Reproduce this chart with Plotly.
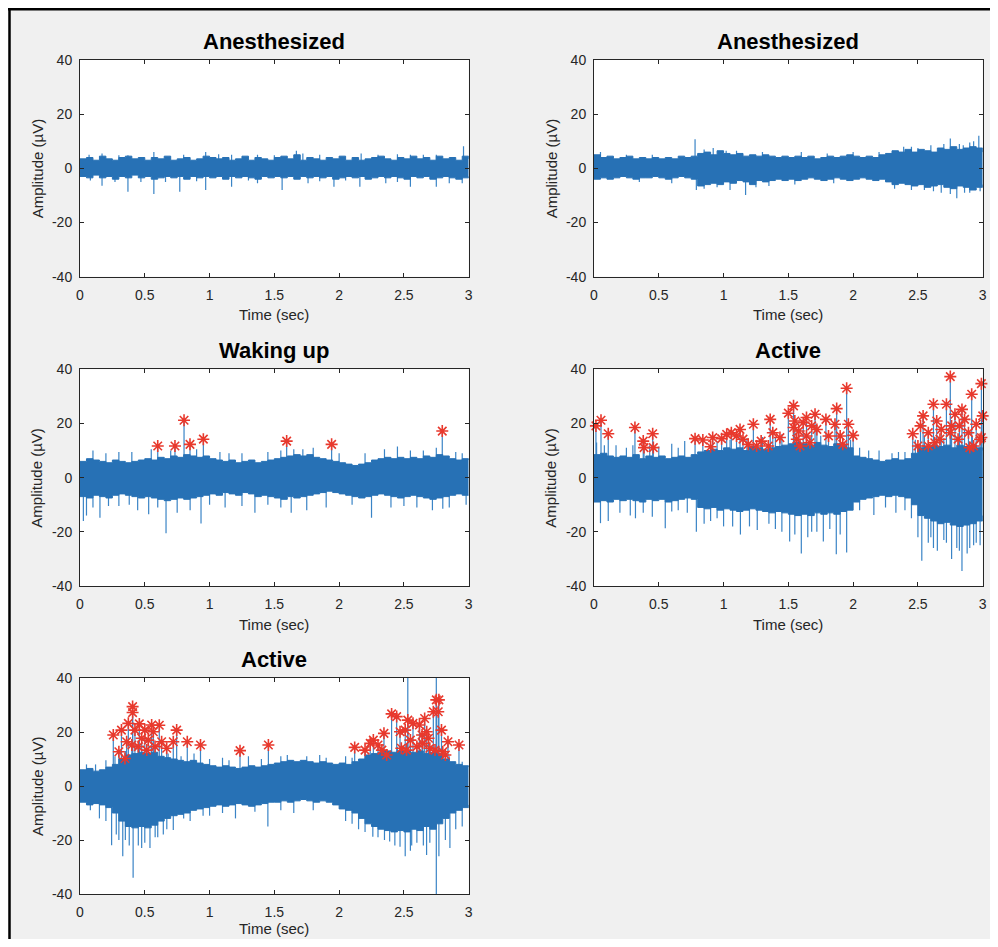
import plotly.graph_objects as go

# ---------------- data ----------------
TIME = [round(0.05 * i, 2) for i in range(61)]  # sampling grid of the envelopes (s)

TITLES = ["Anesthesized", "Anesthesized", "Waking up", "Active", "Active"]
X_TICKS = [0, 0.5, 1, 1.5, 2, 2.5, 3]
X_TICK_TEXT = ["0", "0.5", "1", "1.5", "2", "2.5", "3"]
Y_TICKS = [-40, -20, 0, 20, 40]
Y_TICK_TEXT = ["-40", "-20", "0", "20", "40"]
X_LABEL = "Time (sec)"
Y_LABEL = "Amplitude (µV)"

# Panel 1: Anesthesized (top left) - dense core envelope
A1_UPPER = [3.5, 4.0, 3.0, 4.5, 3.5, 3.0, 4.0, 4.5, 3.5, 4.0,
            3.0, 4.0, 3.5, 4.5, 3.0, 3.5, 4.0, 3.0, 3.5, 4.5,
            4.0, 3.5, 4.0, 3.0, 3.5, 4.5, 3.0, 4.0, 3.5, 3.0,
            4.0, 4.5, 3.5, 5.0, 3.0, 4.0, 3.5, 3.0, 4.0, 3.5,
            4.5, 3.0, 4.0, 3.0, 3.5, 4.0, 4.5, 3.5, 3.0, 4.0,
            3.5, 4.5, 3.5, 4.0, 3.0, 4.5, 3.5, 4.0, 3.0, 4.5,
            3.5]
A1_LOWER = [-3.0, -3.5, -2.5, -3.5, -3.0, -4.0, -3.0, -3.5, -2.5, -3.5,
            -3.0, -4.0, -3.5, -3.0, -3.5, -3.0, -4.0, -3.0, -3.5, -3.0,
            -3.5, -3.0, -4.0, -3.0, -3.5, -3.0, -3.5, -4.0, -3.0, -3.5,
            -3.0, -3.5, -3.0, -4.0, -3.0, -3.5, -3.0, -3.5, -3.0, -4.0,
            -3.5, -3.0, -3.5, -3.0, -4.0, -3.5, -3.0, -3.5, -3.0, -3.5,
            -4.0, -3.0, -3.5, -3.0, -4.0, -3.5, -3.0, -3.5, -4.0, -3.5,
            -3.0]
A1_SPIKE_T = [0.07, 0.17, 0.37, 0.57, 0.97, 1.17, 1.37, 1.67, 1.72, 2.17, 2.55, 2.75, 2.96,
              0.17, 0.27, 0.37, 0.47, 0.57, 0.77, 0.97, 1.17, 1.37, 1.56, 1.76, 1.96, 2.16,
              2.36, 2.55, 2.75, 2.95]
A1_SPIKE_V = [5.0, 5.5, 4.8, 6.0, 6.0, 5.0, 5.0, 6.5, 5.5, 5.5, 5.0, 5.0, 8.2,
              -6.4, -5.0, -8.6, -5.0, -9.5, -8.6, -8.0, -6.8, -5.5, -8.0, -5.5, -6.8, -6.8,
              -5.5, -6.8, -6.8, -5.5]
A1_FRINGE = [(0.30, 4.8), (0.80, 5.0), (1.07, 5.2), (1.50, 4.8), (1.85, 5.0), (2.30, 5.0),
             (2.45, 5.2), (2.65, 5.0), (0.08, -4.5), (0.66, -5.0), (0.90, -4.8), (1.30, -4.5),
             (1.85, -4.8), (2.05, -4.5), (2.45, -5.0), (2.85, -5.5)]

# Panel 2: Anesthesized (top right)
A2_UPPER = [5.0, 4.0, 4.5, 3.5, 4.0, 4.5, 3.5, 4.0, 3.5, 4.0,
            3.5, 4.0, 3.5, 4.5, 4.0, 4.5, 5.5, 6.0, 5.0, 6.5,
            5.5, 5.0, 5.5, 4.5, 5.0, 4.5, 5.0, 4.5, 4.0, 4.5,
            4.0, 4.5, 4.0, 4.5, 3.5, 4.0, 4.5, 4.0, 4.5, 5.0,
            4.5, 4.0, 4.5, 4.0, 5.0, 5.5, 6.5, 6.0, 7.0, 6.0,
            7.0, 6.5, 6.0, 7.5, 7.0, 8.0, 7.0, 7.5, 8.0, 7.5,
            6.0]
A2_LOWER = [-4.0, -3.5, -4.0, -3.5, -3.0, -3.5, -4.0, -3.5, -3.5, -3.0,
            -3.5, -4.0, -3.5, -3.0, -3.5, -4.0, -6.5, -6.0, -5.5, -6.0,
            -5.0, -5.5, -4.5, -5.0, -6.0, -4.5, -5.0, -4.5, -4.0, -4.5,
            -4.0, -4.5, -4.0, -3.5, -4.0, -4.5, -4.0, -3.5, -4.0, -4.5,
            -4.0, -3.5, -4.0, -4.5, -4.0, -5.0, -6.0, -5.5, -6.0, -6.5,
            -6.0, -7.0, -6.5, -6.0, -7.0, -7.5, -6.5, -7.0, -8.0, -7.0,
            -6.0]
A2_SPIKE_T = [0.05, 0.78, 0.92, 1.02, 1.60, 2.20, 2.39, 2.60, 2.75, 2.82, 2.90, 2.97,
              0.60, 0.79, 0.85, 1.05, 1.17, 1.35, 2.32, 2.55, 2.68, 2.80, 2.90, 2.98]
A2_SPIKE_V = [6.0, 10.7, 7.5, 6.5, 6.0, 6.0, 8.0, 8.5, 11.0, 9.0, 9.5, 12.0,
              -5.5, -8.0, -7.5, -8.0, -9.8, -6.5, -7.5, -8.0, -9.0, -11.0, -9.0, -8.5]
A2_FRINGE = [(0.25, 5.0), (0.45, 5.0), (0.85, 7.0), (1.10, 6.5), (1.30, 6.0), (1.80, 5.5),
             (2.00, 6.0), (2.45, 8.0), (2.50, 7.5), (2.70, 9.0), (2.85, 8.5), (2.93, 10.0),
             (0.35, -5.0), (0.95, -7.0), (1.25, -7.0), (1.55, -6.0), (1.85, -5.5), (2.45, -8.0),
             (2.62, -8.5), (2.75, -9.5), (2.86, -9.0)]

# Panel 3: Waking up (middle left)
W_UPPER = [6.0, 7.0, 6.5, 6.0, 5.5, 6.5, 6.0, 5.5, 6.0, 6.5,
           7.0, 6.5, 7.5, 7.0, 8.0, 7.5, 8.5, 8.0, 7.5, 8.0,
           7.0, 6.5, 6.0, 6.5, 5.5, 6.0, 6.5, 5.5, 6.0, 6.5,
           7.0, 7.5, 8.0, 8.5, 8.0, 8.5, 7.5, 7.0, 6.5, 6.0,
           5.5, 5.0, 4.5, 5.0, 5.5, 6.5, 7.0, 7.5, 7.0, 7.5,
           7.0, 7.5, 7.0, 8.0, 7.5, 8.5, 8.0, 7.0, 6.5, 7.0,
           6.5]
W_LOWER = [-7.0, -7.5, -6.5, -7.0, -7.5, -6.5, -6.0, -6.5, -7.0, -7.5,
           -7.0, -7.5, -8.0, -8.5, -8.0, -7.5, -8.0, -7.5, -7.0, -6.5,
           -6.0, -6.5, -5.5, -6.0, -6.5, -5.5, -6.0, -7.0, -6.5, -7.0,
           -7.5, -8.0, -7.0, -7.5, -7.0, -6.5, -6.0, -5.5, -5.0, -5.5,
           -6.0, -6.5, -7.0, -7.5, -7.0, -6.5, -6.0, -6.5, -7.0, -7.5,
           -7.0, -6.5, -7.0, -7.5, -8.0, -7.5, -7.0, -6.5, -6.0, -6.5,
           -6.5]
W_SPIKE_T = [0.10, 0.30, 0.40, 0.55, 1.08, 1.25, 1.45, 1.65, 1.80, 2.00, 2.20, 2.35, 2.45,
             2.65, 2.90,
             0.026, 0.05, 0.154, 0.30, 0.445, 0.53, 0.664, 0.75, 0.85, 0.934, 1.12, 1.35,
             1.55, 1.63, 1.75, 1.90, 2.25, 2.40, 2.60, 2.72, 2.85, 2.98]
W_SPIKE_V = [10.0, 9.5, 9.5, 10.5, 9.5, 9.0, 9.5, 10.5, 11.0, 9.0, 9.0, 10.5, 11.5,
             10.0, 9.5,
             -16.0, -14.0, -14.8, -10.5, -12.0, -13.5, -20.5, -13.0, -12.0, -16.9, -11.0, -13.0,
             -11.0, -13.0, -12.0, -11.0, -14.8, -11.0, -11.0, -12.0, -11.0, -10.0]
W_FRINGE = [(0.20, 9.0), (0.70, 10.0), (0.90, 10.5), (1.15, 9.0), (1.55, 10.0), (1.72, 10.5),
            (2.55, 10.0), (2.75, 11.0), (2.95, 9.0), (0.10, -11.0), (0.22, -10.5), (0.38, -10.0),
            (0.60, -11.0), (1.00, -10.0), (1.25, -10.5), (1.45, -10.0), (2.10, -10.0),
            (2.50, -10.5), (2.80, -11.5)]
W_STAR_T = [0.600, 0.733, 0.803, 0.849, 0.952, 1.595, 1.942, 2.796]
W_STAR_V = [11.7, 11.7, 21.2, 12.3, 14.2, 13.5, 12.3, 17.2]

# Panel 4: Active (middle right)
R_UPPER = [8.5, 9.0, 8.0, 7.5, 8.0, 7.5, 8.5, 7.0, 8.0, 7.5,
           8.0, 7.0, 7.5, 8.0, 7.5, 8.5, 9.5, 10.0, 10.5, 10.0,
           11.0, 10.5, 11.0, 10.0, 11.5, 11.0, 10.5, 11.0, 11.5, 12.0,
           12.5, 13.0, 12.5, 12.0, 13.0, 12.0, 11.5, 12.5, 12.0, 11.0,
           8.0, 7.5, 7.0, 6.5, 6.0, 6.5, 7.0, 6.5, 7.0, 9.0,
           11.0, 11.5, 12.0, 11.5, 12.0, 11.0, 12.0, 11.5, 12.0, 11.0,
           10.0]
R_LOWER = [-9.0, -8.5, -9.0, -8.0, -8.5, -8.0, -8.5, -9.0, -8.0, -8.5,
           -8.0, -9.0, -8.5, -8.0, -7.5, -8.0, -11.0, -11.5, -11.0, -12.0,
           -11.5, -12.0, -12.5, -12.0, -11.5, -12.0, -12.5, -13.0, -12.5, -13.0,
           -13.5, -14.0, -13.5, -14.0, -13.0, -13.5, -13.0, -13.5, -12.5, -12.0,
           -9.0, -8.0, -7.5, -7.0, -6.5, -7.0, -6.5, -7.0, -7.5, -10.0,
           -14.0, -15.0, -16.0, -17.0, -16.5, -17.5, -18.0, -17.5, -17.0, -16.0,
           -14.0]
R_SPIKE_T = [0.02, 0.17, 0.25, 0.43, 0.60, 0.70, 1.30, 1.45, 2.05, 2.20, 2.30, 2.40,
             0.05, 0.11, 0.20, 0.32, 0.45, 0.55, 0.65, 0.79, 0.90, 1.00, 1.13, 1.20, 1.26,
             1.35, 1.45, 1.51, 1.60, 1.65, 1.72, 1.77, 1.87, 1.95, 2.05, 2.16, 2.33, 2.45,
             2.53, 2.58, 2.60, 2.65, 2.70, 2.76, 2.80, 2.84, 2.88, 2.90, 2.95, 2.98]
R_SPIKE_V = [13.0, 12.0, 11.0, 12.0, 12.5, 13.5, 15.0, 16.0, 11.0, 10.0, 9.0, 9.5,
             -16.8, -16.0, -13.0, -15.0, -14.4, -18.7, -12.0, -20.0, -16.0, -18.0, -21.0, -18.0, -19.3,
             -17.0, -20.0, -23.6, -28.0, -22.0, -20.0, -23.6, -28.3, -27.6, -12.0, -13.8, -13.0, -15.0,
             -30.7, -24.0, -22.0, -27.0, -23.0, -30.0, -26.0, -34.5, -28.0, -26.0, -24.0, -25.0]
R_FRINGE = [(0.08, 12.0), (0.30, 12.0), (0.50, 11.5), (0.65, 11.0), (0.95, 13.5), (1.05, 14.0),
            (1.18, 14.5), (1.40, 15.0), (1.75, 15.5), (1.98, 14.0), (2.12, 10.0), (2.35, 9.5),
            (2.48, 14.0), (2.55, 15.0), (2.70, 14.5), (2.92, 15.0), (0.28, -14.0), (0.38, -13.0),
            (0.60, -12.5), (0.72, -13.0), (0.85, -17.0), (0.95, -15.0), (1.07, -18.0), (1.40, -19.0),
            (1.55, -21.0), (1.68, -20.0), (1.82, -19.0), (1.90, -21.0), (2.25, -11.0), (2.40, -12.0),
            (2.50, -22.0), (2.62, -26.0), (2.72, -24.0), (2.82, -27.0), (2.93, -25.0)]
R_STAR_T = [0.015, 0.054, 0.11, 0.316, 0.38, 0.386, 0.453, 0.458, 0.78, 0.84,
            0.90, 0.916, 0.985, 1.024, 1.06, 1.10, 1.127, 1.15, 1.19, 1.23,
            1.255, 1.29, 1.36, 1.38, 1.345, 1.435, 1.50, 1.54, 1.55, 1.58,
            1.615, 1.64, 1.59, 1.667, 1.706, 1.72, 1.79, 1.81, 1.873, 1.86,
            1.90, 1.92, 1.95, 1.963, 2.00, 2.46, 2.50, 2.54, 2.58, 2.62,
            2.645, 2.63, 2.68, 2.72, 2.75, 2.76, 2.786, 2.81, 2.84, 2.86,
            2.89, 2.915, 2.93, 2.95, 2.98, 2.99, 3.00, 2.99, 2.52, 2.67,
            2.82, 2.75, 2.90, 2.58, 1.54, 1.64, 1.68, 1.565]
R_STAR_V = [19.1, 21.2, 16.2, 18.5, 13.5, 11.1, 16.2, 11.1, 14.4, 13.9,
            11.4, 14.8, 14.4, 16.0, 16.6, 15.4, 17.8, 14.2, 12.3, 19.7,
            11.7, 13.5, 21.5, 16.6, 11.7, 14.8, 23.8, 26.5, 20.9, 17.2,
            20.3, 15.4, 11.7, 12.9, 23.4, 17.8, 21.5, 15.4, 25.5, 19.7,
            15.4, 12.3, 33.0, 19.7, 15.6, 16.2, 11.7, 22.8, 16.6, 27.1,
            20.9, 12.9, 17.8, 27.1, 37.3, 19.1, 23.4, 14.2, 25.2, 21.5,
            16.6, 30.8, 11.7, 19.7, 14.2, 34.7, 22.8, 14.8, 19.1, 14.2,
            19.1, 16.6, 11.1, 11.7, 18.5, 22.2, 19.1, 14.2]

# Panel 5: Active (bottom left)
B_UPPER = [6.0, 6.5, 5.5, 6.0, 7.0, 8.0, 10.0, 11.5, 12.0, 12.5,
           12.0, 12.5, 11.0, 10.5, 10.0, 9.5, 9.0, 9.5, 8.5, 8.0,
           7.5, 7.0, 7.5, 7.0, 6.5, 7.0, 7.5, 7.0, 7.5, 8.0,
           8.5, 9.0, 9.5, 9.0, 9.5, 9.0, 8.5, 9.0, 8.5, 8.0,
           8.5, 8.0, 9.0, 10.0, 11.5, 12.0, 12.5, 13.0, 12.5, 13.0,
           13.0, 12.5, 13.0, 12.0, 12.5, 12.0, 10.0, 9.0, 8.0, 7.5,
           7.0]
B_LOWER = [-6.0, -7.0, -6.5, -7.0, -8.0, -10.0, -13.0, -15.0, -15.5, -15.0,
           -15.5, -14.5, -13.0, -12.0, -11.0, -10.5, -10.0, -9.0, -8.5, -8.0,
           -7.5, -7.0, -7.5, -7.0, -6.5, -7.0, -7.5, -7.0, -6.5, -6.0,
           -6.0, -5.5, -6.0, -5.5, -5.0, -5.5, -6.0, -5.5, -6.0, -7.0,
           -8.5, -9.0, -10.0, -12.0, -14.0, -15.0, -16.0, -16.5, -17.0, -16.5,
           -17.0, -16.0, -16.5, -15.0, -16.0, -14.0, -12.0, -10.0, -9.0, -8.0,
           -7.0]
B_SPIKE_T = [2.75, 0.12, 0.20, 0.88, 1.00, 1.10, 1.30, 1.60, 1.75, 1.90, 2.05, 2.95,
             0.15, 0.244, 0.30, 0.33, 0.38, 0.41, 0.476, 0.54, 0.60, 0.643, 0.72, 0.85,
             1.00, 1.20, 1.45, 1.65, 2.05, 2.15, 2.26, 2.30, 2.39, 2.47, 2.51, 2.56,
             2.60, 2.675, 2.75, 2.77, 2.855, 2.95]
B_SPIKE_V = [42.0, 8.0, 9.5, 12.0, 10.0, 10.5, 11.0, 11.5, 11.0, 10.5, 11.0, 9.0,
             -12.0, -21.9, -20.0, -26.0, -22.0, -34.0, -23.0, -23.0, -19.0, -18.0, -16.3, -13.0,
             -11.0, -12.0, -15.0, -10.0, -13.0, -16.0, -18.8, -19.0, -20.6, -22.5, -26.0, -22.0,
             -21.0, -25.6, -42.0, -26.0, -23.0, -15.0]
B_FRINGE = [(0.05, 8.0), (0.27, 11.0), (0.35, 13.0), (0.45, 14.0), (0.55, 14.5), (0.68, 12.0),
            (0.78, 11.0), (1.15, 9.5), (1.40, 10.0), (1.55, 11.0), (1.85, 11.5), (2.10, 10.5),
            (2.25, 12.0), (2.35, 13.0), (2.45, 14.5), (2.62, 14.0), (2.85, 11.0), (0.08, -9.0),
            (0.20, -13.0), (0.28, -18.0), (0.35, -20.0), (0.45, -22.0), (0.50, -21.0),
            (0.58, -19.0), (0.67, -16.0), (0.80, -12.0), (0.95, -11.0), (1.10, -10.0),
            (1.35, -9.5), (1.55, -9.0), (1.80, -9.0), (2.10, -14.0), (2.20, -17.0), (2.35, -20.0),
            (2.43, -22.0), (2.55, -24.0), (2.65, -22.0), (2.70, -21.0), (2.82, -20.0), (2.90, -16.0)]
B_STAR_T = [0.257, 0.30, 0.32, 0.347, 0.36, 0.373, 0.40, 0.406, 0.406, 0.424,
            0.45, 0.458, 0.476, 0.50, 0.515, 0.527, 0.553, 0.566, 0.579, 0.612,
            0.63, 0.669, 0.72, 0.746, 0.828, 0.93, 1.235, 1.454, 2.12, 2.20,
            2.24, 2.264, 2.30, 2.33, 2.346, 2.367, 2.405, 2.444, 2.47, 2.48,
            2.51, 2.52, 2.53, 2.53, 2.55, 2.57, 2.60, 2.62, 2.645, 2.66,
            2.676, 2.70, 2.727, 2.75, 2.77, 2.765, 2.79, 2.80, 2.82, 2.84,
            2.925, 2.69, 2.74, 2.64]
B_STAR_V = [18.9, 12.7, 20.7, 10.2, 16.4, 23.2, 15.2, 29.4, 27.2, 20.7,
            14.6, 23.0, 17.7, 20.7, 13.3, 17.0, 22.6, 20.1, 14.6, 22.5,
            16.4, 14.0, 16.4, 20.7, 16.4, 15.2, 13.1, 15.2, 14.3, 13.3,
            15.8, 17.0, 15.2, 13.3, 19.5, 11.5, 26.7, 25.7, 20.1, 14.0,
            20.7, 13.3, 40.2, 24.4, 17.0, 23.2, 14.6, 22.6, 15.8, 25.0,
            20.1, 14.0, 27.5, 31.9, 31.9, 27.5, 20.7, 12.7, 11.5, 16.4,
            15.2, 17.7, 13.3, 18.9]

PANELS = [
    dict(upper=A1_UPPER, lower=A1_LOWER, st=A1_SPIKE_T, sv=A1_SPIKE_V, fr=A1_FRINGE, kt=[], kv=[]),
    dict(upper=A2_UPPER, lower=A2_LOWER, st=A2_SPIKE_T, sv=A2_SPIKE_V, fr=A2_FRINGE, kt=[], kv=[]),
    dict(upper=W_UPPER, lower=W_LOWER, st=W_SPIKE_T, sv=W_SPIKE_V, fr=W_FRINGE, kt=W_STAR_T, kv=W_STAR_V),
    dict(upper=R_UPPER, lower=R_LOWER, st=R_SPIKE_T, sv=R_SPIKE_V, fr=R_FRINGE, kt=R_STAR_T, kv=R_STAR_V),
    dict(upper=B_UPPER, lower=B_LOWER, st=B_SPIKE_T, sv=B_SPIKE_V, fr=B_FRINGE, kt=B_STAR_T, kv=B_STAR_V),
]

# ---------------- layout geometry ----------------
# The page body keeps its default 8 px margin, so the figure is 16 px smaller
# than the window and all reference pixel positions are shifted by 8 px.
OFF = 8
W, H = 998 - 2 * OFF, 947 - 2 * OFF
COLS = [(80 - OFF, 468.7 - OFF), (594 - OFF, 982.7 - OFF)]
ROWS = [(60 - OFF, 276.7 - OFF), (369.3 - OFF, 586 - OFF), (678 - OFF, 894 - OFF)]
POS = [(0, 0), (1, 0), (0, 1), (1, 1), (0, 2)]
XLABEL_GAP = [38, 38, 34]  # px below each row's axes (last row nudged up to stay on the page)

BLUE_CORE = "#2771b5"
BLUE_SPIKE = "#3a84c6"
RED = "#e8392d"
AX_COLOR = "#262626"
FONT = "Liberation Sans, Arial, Helvetica, sans-serif"

fig = go.Figure()
layout = dict(width=W, height=H, margin=dict(l=0, r=0, t=0, b=0, pad=0, autoexpand=False),
              paper_bgcolor="#f0f0f0", plot_bgcolor="white", showlegend=False,
              font=dict(family=FONT, color=AX_COLOR, size=14))
annotations = []

for i, p in enumerate(PANELS):
    n = "" if i == 0 else str(i + 1)
    xa, ya = "x" + n, "y" + n
    c, r = POS[i]
    x0, x1 = COLS[c]
    y0, y1 = ROWS[r]
    dx = [x0 / W, x1 / W]
    dy = [1 - y1 / H, 1 - y0 / H]

    pairs = list(zip(p["st"], p["sv"])) + list(p["fr"]) + list(zip(p["kt"], p["kv"]))
    sx, sy = [], []
    for t, v in pairs:
        sx += [t, t, None]
        sy += [0, v, None]
    fig.add_trace(go.Scatter(x=sx, y=sy, mode="lines", xaxis=xa, yaxis=ya,
                             line=dict(color=BLUE_SPIKE, width=1.2), hoverinfo="skip"))
    fig.add_trace(go.Scatter(x=TIME, y=p["lower"], mode="lines", xaxis=xa, yaxis=ya,
                             line=dict(color=BLUE_CORE, width=1, shape="hv"), hoverinfo="skip"))
    fig.add_trace(go.Scatter(x=TIME, y=p["upper"], mode="lines", xaxis=xa, yaxis=ya,
                             fill="tonexty", fillcolor=BLUE_CORE,
                             line=dict(color=BLUE_CORE, width=1, shape="hv"), hoverinfo="skip"))
    if p["kt"]:
        fig.add_trace(go.Scatter(x=p["kt"], y=p["kv"], mode="markers", xaxis=xa, yaxis=ya,
                                 cliponaxis=False,
                                 marker=dict(symbol="asterisk-open", size=10, color=RED,
                                             line=dict(color=RED, width=1.6)),
                                 hoverinfo="skip"))

    common = dict(showline=True, mirror="ticks", linecolor=AX_COLOR, linewidth=1,
                  ticks="inside", ticklen=4, tickcolor=AX_COLOR, tickwidth=1,
                  showgrid=False, zeroline=False, automargin=False,
                  tickfont=dict(size=14, color=AX_COLOR))
    layout["xaxis" + n] = dict(domain=dx, range=[0, 3], tickvals=X_TICKS, ticktext=X_TICK_TEXT,
                               anchor=ya, ticklabelstandoff=5, **common)
    layout["yaxis" + n] = dict(domain=dy, range=[-40, 40], tickvals=Y_TICKS, ticktext=Y_TICK_TEXT,
                               anchor=xa, ticklabelstandoff=4, **common)

    xc = (x0 + x1) / 2 / W
    annotations.append(dict(text="<b>%s</b>" % TITLES[i], x=xc, y=1 - (y0 - 19) / H,
                            xref="paper", yref="paper", showarrow=False,
                            xanchor="center", yanchor="middle",
                            font=dict(size=22, color="black", family=FONT)))
    annotations.append(dict(text=X_LABEL, x=xc, y=1 - (y1 + XLABEL_GAP[r]) / H,
                            xref="paper", yref="paper", showarrow=False,
                            xanchor="center", yanchor="middle",
                            font=dict(size=15, color=AX_COLOR, family=FONT)))
    annotations.append(dict(text=Y_LABEL, x=(x0 - 43) / W, y=1 - (y0 + y1) / 2 / H,
                            xref="paper", yref="paper", showarrow=False, textangle=-90,
                            xanchor="center", yanchor="middle",
                            font=dict(size=15, color=AX_COLOR, family=FONT)))

layout["annotations"] = annotations
layout["shapes"] = [
    dict(type="line", xref="paper", yref="paper", x0=1.5 / W, x1=1.5 / W, y0=0, y1=1,
         line=dict(color="black", width=2.5), layer="above"),
    dict(type="line", xref="paper", yref="paper", x0=0, x1=1, y0=1 - 1.2 / H, y1=1 - 1.2 / H,
         line=dict(color="black", width=2.5), layer="above"),
]
fig.update_layout(**layout)
fig.write_html("out.html", config={"displayModeBar": False})
